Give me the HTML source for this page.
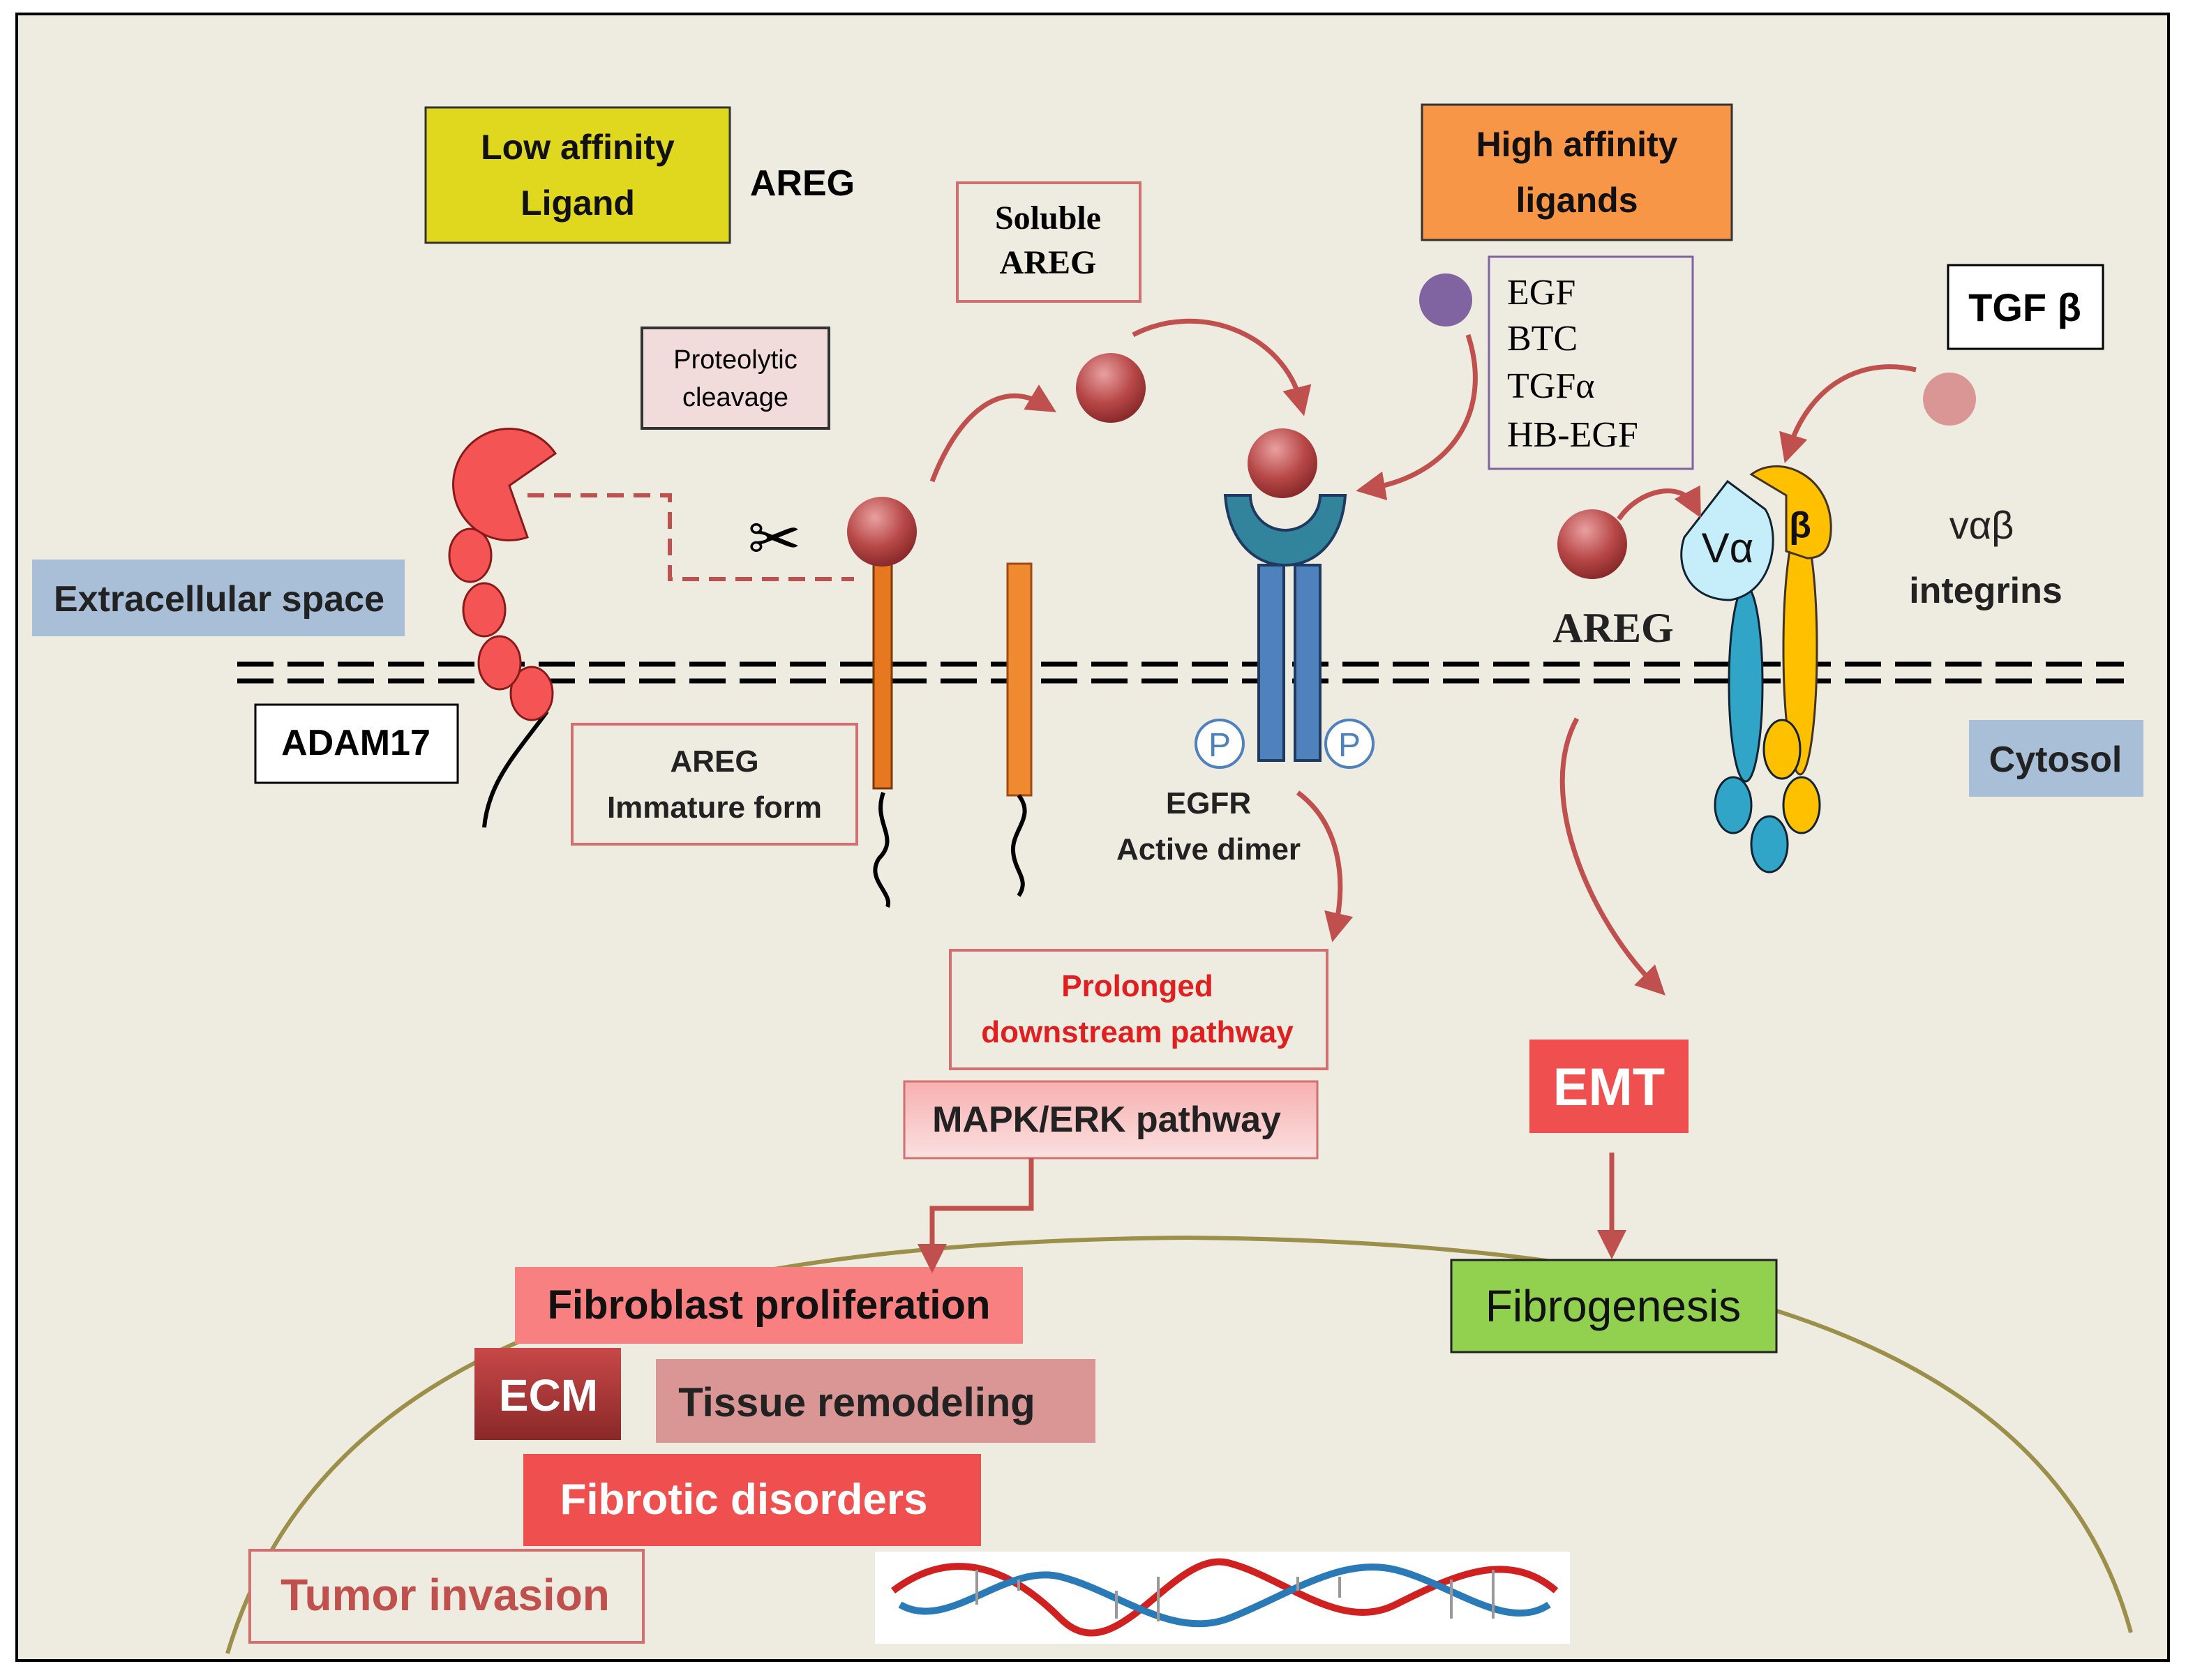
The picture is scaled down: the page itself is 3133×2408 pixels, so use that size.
<!DOCTYPE html>
<html><head><meta charset="utf-8"><style>html,body{margin:0;padding:0;background:#fff}svg{display:block}</style></head><body>
<svg width="3133" height="2408" viewBox="0 0 1566.5 1204" xmlns="http://www.w3.org/2000/svg" font-family="Liberation Sans, sans-serif">
<defs>
<radialGradient id="ball" cx="0.4" cy="0.3" r="0.7"><stop offset="0" stop-color="#e9a0a0"/><stop offset="0.6" stop-color="#b84848"/><stop offset="1" stop-color="#8a2a2a"/></radialGradient>
<linearGradient id="mapk" x1="0" y1="0" x2="0" y2="1"><stop offset="0" stop-color="#f7b0b0"/><stop offset="1" stop-color="#fbe0e0"/></linearGradient>
<linearGradient id="ecm" x1="0" y1="0" x2="0" y2="1"><stop offset="0" stop-color="#c84848"/><stop offset="1" stop-color="#8a2828"/></linearGradient>
<marker id="ah" markerWidth="6" markerHeight="6" refX="3" refY="3" orient="auto" markerUnits="strokeWidth"><path d="M0,0 L6,3 L0,6 z" fill="#c0504d"/></marker>
</defs>
<rect x="12" y="10" width="1542" height="1180" fill="#eeebe0" stroke="#000" stroke-width="2"/>
<path d="M163,1185 C230,960 480,890 850,887 C1220,890 1470,960 1527,1170" fill="none" stroke="#9b8f4a" stroke-width="3"/>
<g stroke="#000" stroke-width="3.5" stroke-dasharray="26,10"><line x1="170" y1="476" x2="1522" y2="476"/><line x1="170" y1="488" x2="1522" y2="488"/></g>

<rect x="305" y="77" width="218" height="97" fill="#e0d81e" stroke="#333" stroke-width="1.5"/>
<text x="414" y="114" font-size="25" text-anchor="middle" font-weight="bold" fill="#111">Low affinity</text>
<text x="414" y="154" font-size="25" text-anchor="middle" font-weight="bold" fill="#111">Ligand</text>
<text x="575" y="140" font-size="26" text-anchor="middle" font-weight="bold">AREG</text>

<rect x="686" y="131" width="131" height="85" fill="#eeebe0" stroke="#d07070" stroke-width="2"/>
<text x="751" y="164" font-size="24" text-anchor="middle" font-family="Liberation Serif, serif" font-weight="bold">Soluble</text>
<text x="751" y="196" font-size="24" text-anchor="middle" font-family="Liberation Serif, serif" font-weight="bold">AREG</text>

<rect x="1019" y="75" width="222" height="97" fill="#f79646" stroke="#333" stroke-width="1.5"/>
<text x="1130" y="112" font-size="25" text-anchor="middle" font-weight="bold" fill="#111">High affinity</text>
<text x="1130" y="152" font-size="25" text-anchor="middle" font-weight="bold" fill="#111">ligands</text>

<rect x="1067" y="184" width="146" height="152" fill="#eeebe0" stroke="#8064a2" stroke-width="1.5"/>
<g font-family="Liberation Serif, serif" font-size="26"><text x="1080" y="218">EGF</text><text x="1080" y="251">BTC</text><text x="1080" y="285">TGFα</text><text x="1080" y="320">HB-EGF</text></g>
<circle cx="1036" cy="215" r="19" fill="#8064a2"/>

<rect x="1396" y="190" width="111" height="60" fill="#fff" stroke="#000" stroke-width="1.5"/>
<text x="1451" y="230" font-size="28" text-anchor="middle" font-weight="bold">TGF β</text>
<circle cx="1397" cy="286" r="19" fill="#d99694"/>

<rect x="460" y="235" width="134" height="72" fill="#f2dcdb" stroke="#333" stroke-width="2"/>
<text x="527" y="264" font-size="19" text-anchor="middle">Proteolytic</text>
<text x="527" y="291" font-size="19" text-anchor="middle">cleavage</text>

<rect x="23" y="401" width="267" height="55" fill="#a9bfd8"/>
<text x="157" y="438" font-size="26" text-anchor="middle" font-weight="bold" fill="#222">Extracellular space</text>
<rect x="1411" y="516" width="125" height="55" fill="#a9bfd8"/>
<text x="1473" y="553" font-size="26" text-anchor="middle" font-weight="bold" fill="#222">Cytosol</text>

<rect x="183" y="505" width="145" height="56" fill="#fff" stroke="#000" stroke-width="1.5"/>
<text x="255" y="541" font-size="26" text-anchor="middle" font-weight="bold">ADAM17</text>

<rect x="410" y="519" width="204" height="86" fill="#eeebe0" stroke="#d07070" stroke-width="2"/>
<text x="512" y="553" font-size="22" text-anchor="middle" font-weight="bold" fill="#222">AREG</text>
<text x="512" y="586" font-size="22" text-anchor="middle" font-weight="bold" fill="#222">Immature form</text>

<text x="866" y="583" font-size="22" text-anchor="middle" font-weight="bold" fill="#222">EGFR</text>
<text x="866" y="616" font-size="22" text-anchor="middle" font-weight="bold" fill="#222">Active dimer</text>

<text x="1420" y="386" font-size="28" text-anchor="middle" fill="#222">vαβ</text>
<text x="1423" y="432" font-size="26" text-anchor="middle" font-weight="bold" fill="#222">integrins</text>
<text x="1156" y="460" font-size="30" text-anchor="middle" font-family="Liberation Serif, serif" font-weight="bold" fill="#222">AREG</text>

<rect x="681" y="681" width="270" height="85" fill="#eeebe0" stroke="#d07070" stroke-width="2"/>
<text x="815" y="714" font-size="22" text-anchor="middle" font-weight="bold" fill="#e02020">Prolonged</text>
<text x="815" y="747" font-size="22" text-anchor="middle" font-weight="bold" fill="#e02020">downstream pathway</text>

<rect x="648" y="775" width="296" height="55" fill="url(#mapk)" stroke="#d07070" stroke-width="1.5"/>
<text x="793" y="811" font-size="26" text-anchor="middle" font-weight="bold" fill="#222">MAPK/ERK pathway</text>

<rect x="1096" y="745" width="114" height="67" fill="#f04f4f"/>
<text x="1153" y="792" font-size="38" text-anchor="middle" font-weight="bold" fill="#fff">EMT</text>

<rect x="1040" y="903" width="233" height="66" fill="#92d050" stroke="#222" stroke-width="1.5"/>
<text x="1156" y="947" font-size="32" text-anchor="middle" fill="#111">Fibrogenesis</text>

<rect x="369" y="908" width="364" height="55" fill="#f98080"/>
<text x="551" y="945" font-size="29" text-anchor="middle" font-weight="bold" fill="#111">Fibroblast proliferation</text>
<rect x="470" y="974" width="315" height="60" fill="#d99694"/>
<text x="614" y="1015" font-size="29" text-anchor="middle" font-weight="bold" fill="#222">Tissue  remodeling</text>
<rect x="340" y="966" width="105" height="66" fill="url(#ecm)"/>
<text x="393" y="1011" font-size="32" text-anchor="middle" font-weight="bold" fill="#fff">ECM</text>
<rect x="375" y="1042" width="328" height="66" fill="#f04f4f"/>
<text x="533" y="1085" font-size="31" text-anchor="middle" font-weight="bold" fill="#fff">Fibrotic disorders</text>
<rect x="179" y="1111" width="282" height="66" fill="#eeebe0" stroke="#d07070" stroke-width="2"/>
<text x="319" y="1154" font-size="32" text-anchor="middle" font-weight="bold" fill="#c0504d">Tumor invasion</text>

<rect x="627" y="1112" width="498" height="66" fill="#fff"/>
<g fill="none" stroke-width="5">
<path d="M640,1140 C680,1110 720,1120 760,1160 S840,1110 880,1120 S960,1170 1000,1150 S1080,1110 1115,1140" stroke="#d02020"/>
<path d="M645,1150 C680,1170 720,1120 760,1130 S840,1175 880,1160 S960,1115 1000,1125 S1080,1170 1110,1150" stroke="#2a7ab8"/>
</g>
<g stroke="#999" stroke-width="2">
<line x1="700" y1="1125" x2="700" y2="1150"/><line x1="730" y1="1132" x2="730" y2="1140"/><line x1="800" y1="1140" x2="800" y2="1160"/><line x1="830" y1="1130" x2="830" y2="1162"/><line x1="930" y1="1140" x2="930" y2="1130"/><line x1="960" y1="1145" x2="960" y2="1130"/><line x1="1040" y1="1132" x2="1040" y2="1160"/><line x1="1070" y1="1125" x2="1070" y2="1160"/></g>

<path d="M392,510 C370,540 350,560 347,593" fill="none" stroke="#000" stroke-width="3"/>
<g fill="#f55454" stroke="#8a1a1a" stroke-width="1.5">
<ellipse cx="381" cy="497" rx="15" ry="19"/><ellipse cx="358" cy="475" rx="15" ry="19"/><ellipse cx="347" cy="437" rx="15" ry="19"/><ellipse cx="337" cy="398" rx="15" ry="19"/>
<path d="M398,325 A40,40 0 1 0 378,385 L365,348 Z"/>
</g>
<path d="M378,355 L480,355 L480,415 L612,415" fill="none" stroke="#c0504d" stroke-width="3" stroke-dasharray="12,7"/>
<text x="555" y="402" font-size="46" text-anchor="middle">✂</text>

<rect x="626" y="400" width="13" height="165" fill="#e87820" stroke="#7a3a0a" stroke-width="1.5"/>
<path d="M633,568 C625,590 645,600 630,615 C620,630 640,640 636,650" fill="none" stroke="#000" stroke-width="3"/>
<circle cx="632" cy="381" r="25" fill="url(#ball)"/>
<rect x="722" y="404" width="17" height="166" fill="#f08a30" stroke="#a04a10" stroke-width="1.5"/>
<path d="M730,570 C742,585 725,595 726,610 C727,625 738,630 730,642" fill="none" stroke="#000" stroke-width="3"/>
<circle cx="796" cy="278" r="25" fill="url(#ball)"/>

<rect x="902" y="405" width="18" height="140" fill="#4f81bd" stroke="#1f3a60" stroke-width="2"/>
<rect x="928" y="405" width="18" height="140" fill="#4f81bd" stroke="#1f3a60" stroke-width="2"/>
<path d="M878,355 L896,355 A25,25 0 0 0 946,355 L964,355 C962,385 945,405 921,405 C897,405 880,385 878,355 Z" fill="#31849b" stroke="#1f3a60" stroke-width="2"/>
<circle cx="919" cy="332" r="25" fill="url(#ball)"/>
<g fill="#fff" stroke="#4f81bd" stroke-width="2"><circle cx="874" cy="533" r="17"/><circle cx="967" cy="533" r="17"/></g>
<text x="874" y="542" font-size="24" text-anchor="middle" fill="#4f81bd">P</text>
<text x="967" y="542" font-size="24" text-anchor="middle" fill="#4f81bd">P</text>

<ellipse cx="1251" cy="490" rx="12" ry="70" fill="#31a5c8" stroke="#123" stroke-width="1.5"/>
<ellipse cx="1290" cy="465" rx="12" ry="90" fill="#ffc000" stroke="#432" stroke-width="1.5"/>
<path d="M1255,340 C1275,325 1310,340 1312,375 C1313,395 1305,400 1295,400 L1280,395 L1280,355 Z" fill="#ffc000" stroke="#432" stroke-width="1.5"/>
<path d="M1238,345 L1265,365 C1277,385 1270,425 1240,430 C1210,430 1200,405 1207,385 Z" fill="#c6eefa" stroke="#123" stroke-width="1.5"/>
<text x="1238" y="403" font-size="30" text-anchor="middle" fill="#111">Vα</text>
<text x="1290" y="385" font-size="26" text-anchor="middle" font-weight="bold" fill="#111">β</text>
<g stroke="#123" stroke-width="1.5"><ellipse cx="1277" cy="537" rx="13" ry="21" fill="#ffc000"/><ellipse cx="1291" cy="577" rx="13" ry="20" fill="#ffc000"/><ellipse cx="1242" cy="577" rx="13" ry="20" fill="#31a5c8"/><ellipse cx="1268" cy="605" rx="13" ry="20" fill="#31a5c8"/></g>
<circle cx="1141" cy="390" r="25" fill="url(#ball)"/>

<g fill="none" stroke="#c0504d" stroke-width="3.5" marker-end="url(#ah)">
<path d="M668,345 C685,300 715,270 748,290"/>
<path d="M812,240 C860,215 920,240 932,288"/>
<path d="M1052,240 C1070,295 1040,340 982,350"/>
<path d="M930,568 C960,590 965,630 957,665"/>
<path d="M1160,372 C1175,350 1205,345 1214,362"/>
<path d="M1373,265 C1330,255 1295,280 1282,322"/>
<path d="M1130,515 C1100,570 1140,660 1186,706"/>
<path d="M1155,826 L1155,892"/>
<path d="M739,830 L739,866 L668,866 L668,902"/>
</g>
</svg>
</body></html>
